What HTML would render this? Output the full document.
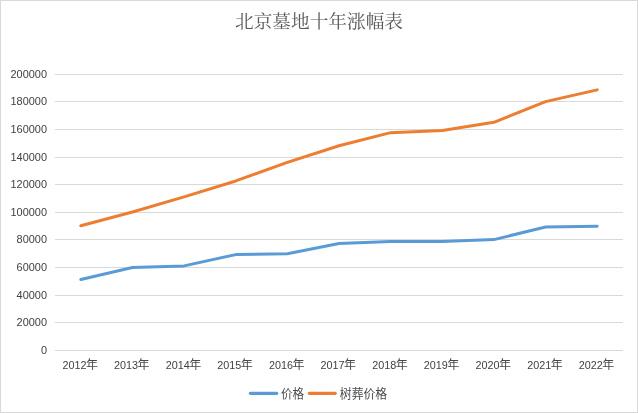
<!DOCTYPE html>
<html lang="zh-CN"><head><meta charset="utf-8"><title>北京墓地十年涨幅表</title>
<style>
html,body{margin:0;padding:0;background:#fff;}
body{width:638px;height:413px;overflow:hidden;}
svg{display:block;}
.ax{font-family:"Liberation Sans","Noto Sans CJK SC",sans-serif;font-size:11px;fill:#414141;}
.cj{font-family:"Liberation Sans","Noto Sans CJK SC",sans-serif;font-size:12px;fill:#484848;}
.lg{font-family:"Liberation Sans","Noto Sans CJK SC",sans-serif;font-size:12.6px;fill:#484848;}
.ti{font-family:"Liberation Serif","Noto Serif CJK SC",serif;font-size:18.67px;fill:#595959;}
</style></head><body>
<svg width="638" height="413" viewBox="0 0 638 413">
<rect x="0" y="0" width="638" height="413" fill="#ffffff"/>
<rect x="0.5" y="0.5" width="637" height="412" fill="none" stroke="#d9d9d9" stroke-width="1"/>
<text class="ti" x="319" y="28" text-anchor="middle">北京墓地十年涨幅表</text>
<g stroke="#d9d9d9" stroke-width="1" fill="none">
<line x1="55" y1="74.5" x2="623" y2="74.5"/>
<line x1="55" y1="101.5" x2="623" y2="101.5"/>
<line x1="55" y1="129.5" x2="623" y2="129.5"/>
<line x1="55" y1="157.5" x2="623" y2="157.5"/>
<line x1="55" y1="184.5" x2="623" y2="184.5"/>
<line x1="55" y1="212.5" x2="623" y2="212.5"/>
<line x1="55" y1="239.5" x2="623" y2="239.5"/>
<line x1="55" y1="267.5" x2="623" y2="267.5"/>
<line x1="55" y1="295.5" x2="623" y2="295.5"/>
<line x1="55" y1="322.5" x2="623" y2="322.5"/>
<line x1="55" y1="350.5" x2="623" y2="350.5"/>
</g>
<g class="ax">
<text x="10.52" y="77.70" textLength="36.48" lengthAdjust="spacingAndGlyphs">200000</text>
<text x="10.52" y="104.70" textLength="36.48" lengthAdjust="spacingAndGlyphs">180000</text>
<text x="10.52" y="132.70" textLength="36.48" lengthAdjust="spacingAndGlyphs">160000</text>
<text x="10.52" y="160.70" textLength="36.48" lengthAdjust="spacingAndGlyphs">140000</text>
<text x="10.52" y="187.70" textLength="36.48" lengthAdjust="spacingAndGlyphs">120000</text>
<text x="10.52" y="215.70" textLength="36.48" lengthAdjust="spacingAndGlyphs">100000</text>
<text x="16.60" y="242.70" textLength="30.40" lengthAdjust="spacingAndGlyphs">80000</text>
<text x="16.60" y="270.70" textLength="30.40" lengthAdjust="spacingAndGlyphs">60000</text>
<text x="16.60" y="298.70" textLength="30.40" lengthAdjust="spacingAndGlyphs">40000</text>
<text x="16.60" y="325.70" textLength="30.40" lengthAdjust="spacingAndGlyphs">20000</text>
<text x="40.92" y="353.70" textLength="6.08" lengthAdjust="spacingAndGlyphs">0</text>
</g>
<text class="cj" x="62.42" y="368.9"><tspan class="ax" textLength="24" lengthAdjust="spacingAndGlyphs">2012</tspan><tspan x="85.92" dy="0.5">年</tspan></text>
<text class="cj" x="114.05" y="368.9"><tspan class="ax" textLength="24" lengthAdjust="spacingAndGlyphs">2013</tspan><tspan x="137.55" dy="0.5">年</tspan></text>
<text class="cj" x="165.69" y="368.9"><tspan class="ax" textLength="24" lengthAdjust="spacingAndGlyphs">2014</tspan><tspan x="189.19" dy="0.5">年</tspan></text>
<text class="cj" x="217.33" y="368.9"><tspan class="ax" textLength="24" lengthAdjust="spacingAndGlyphs">2015</tspan><tspan x="240.83" dy="0.5">年</tspan></text>
<text class="cj" x="268.96" y="368.9"><tspan class="ax" textLength="24" lengthAdjust="spacingAndGlyphs">2016</tspan><tspan x="292.46" dy="0.5">年</tspan></text>
<text class="cj" x="320.60" y="368.9"><tspan class="ax" textLength="24" lengthAdjust="spacingAndGlyphs">2017</tspan><tspan x="344.10" dy="0.5">年</tspan></text>
<text class="cj" x="372.24" y="368.9"><tspan class="ax" textLength="24" lengthAdjust="spacingAndGlyphs">2018</tspan><tspan x="395.74" dy="0.5">年</tspan></text>
<text class="cj" x="423.87" y="368.9"><tspan class="ax" textLength="24" lengthAdjust="spacingAndGlyphs">2019</tspan><tspan x="447.37" dy="0.5">年</tspan></text>
<text class="cj" x="475.51" y="368.9"><tspan class="ax" textLength="24" lengthAdjust="spacingAndGlyphs">2020</tspan><tspan x="499.01" dy="0.5">年</tspan></text>
<text class="cj" x="527.15" y="368.9"><tspan class="ax" textLength="24" lengthAdjust="spacingAndGlyphs">2021</tspan><tspan x="550.65" dy="0.5">年</tspan></text>
<text class="cj" x="578.78" y="368.9"><tspan class="ax" textLength="24" lengthAdjust="spacingAndGlyphs">2022</tspan><tspan x="602.28" dy="0.5">年</tspan></text>
<polyline points="80.82,279.50 132.45,267.50 184.09,265.90 235.73,254.60 287.36,253.80 339.00,243.50 390.64,241.50 442.27,241.50 493.91,239.60 545.55,227.00 597.18,226.20" fill="none" stroke="#5b9bd5" stroke-width="3" stroke-linecap="round" stroke-linejoin="round"/>
<polyline points="80.82,225.80 132.45,212.00 184.09,196.82 235.73,180.95 287.36,162.32 339.00,145.76 390.64,132.65 442.27,130.58 493.91,122.30 545.55,101.60 597.18,89.87" fill="none" stroke="#ed7d31" stroke-width="3" stroke-linecap="round" stroke-linejoin="round"/>
<g stroke-width="3.25" stroke-linecap="round"><line x1="250.4" y1="393.3" x2="276.7" y2="393.3" stroke="#5b9bd5"/><line x1="309.4" y1="393.3" x2="335.2" y2="393.3" stroke="#ed7d31"/></g>
<text class="lg" x="280.9" y="397.6" textLength="23.1" lengthAdjust="spacingAndGlyphs">价格</text><text class="lg" x="339.8" y="397.6" textLength="47.4" lengthAdjust="spacingAndGlyphs">树葬价格</text>
</svg></body></html>
